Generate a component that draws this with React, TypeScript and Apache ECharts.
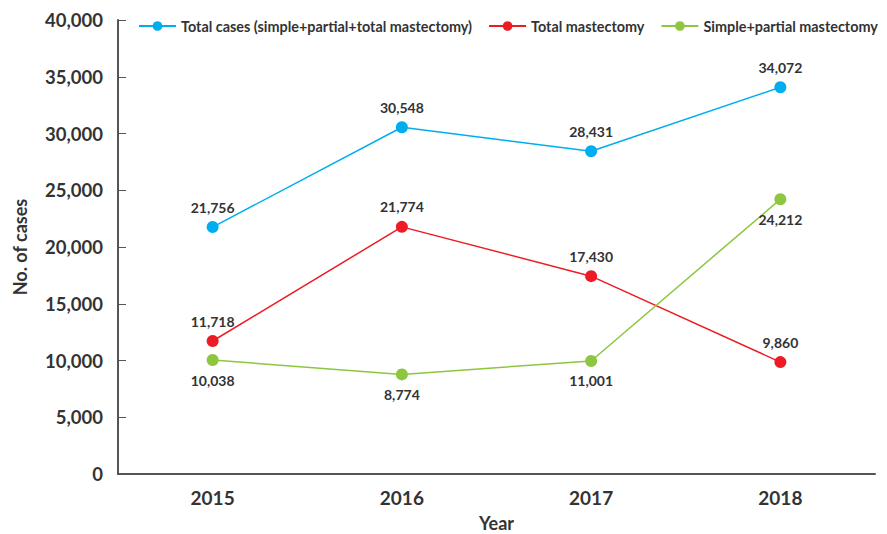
import React, { useEffect, useRef } from "react";
import * as echarts from "echarts";

const years = ["2015", "2016", "2017", "2018"];
const totalCases = [21756, 30548, 28431, 34072];
const totalMastectomy = [11718, 21774, 17430, 9860];
// plotted positions as drawn in the reference (2017 point sits near 10,000)
const simplePartial = [10038, 8774, 9960, 24212];
const simplePartialLabels = ["10,038", "8,774", "11,001", "24,212"];
const yTicks = [0, 5000, 10000, 15000, 20000, 25000, 30000, 35000, 40000];

const FONT = "Lato";
const fmt = (v: number) => v.toLocaleString("en-US");

export default function App() {
  const ref = useRef<HTMLDivElement>(null);
  useEffect(() => {
    if (!ref.current) return;
    const chart = echarts.init(ref.current, undefined, { renderer: "svg" });
    const labelStyle = {
      show: true,
      fontFamily: FONT,
      fontSize: 14,
      fontWeight: "bold" as const,
      color: "#333",
      distance: 7,
    };
    chart.setOption({
      animation: false,
      textStyle: { fontFamily: FONT },
      legend: {
        top: 19,
        left: 138,
        width: 749,
        padding: 0,
        itemWidth: 37,
        itemHeight: 12,
        itemGap: 16,
        textStyle: { fontFamily: FONT, fontSize: 14.4, color: "#333", fontWeight: "bold" },
        data: [
          "Total cases (simple+partial+total mastectomy)",
          "Total mastectomy",
          "Simple+partial mastectomy",
        ],
      },
      grid: { left: 118, right: 12, top: 20, bottom: 60, containLabel: false, outerBoundsMode: "none" },
      xAxis: {
        type: "category",
        data: years,
        boundaryGap: true,
        name: "Year",
        nameLocation: "middle",
        nameGap: 40,
        nameTextStyle: { fontFamily: FONT, fontSize: 18, fontWeight: "bold", color: "#333" },
        axisLine: { lineStyle: { color: "#555", width: 2 } },
        axisTick: { inside: true, alignWithLabel: true, length: 8, lineStyle: { color: "#555", width: 1 } },
        axisLabel: { fontFamily: FONT, fontSize: 19, fontWeight: "bold", color: "#333", margin: 14 },
        splitLine: { show: false },
      },
      yAxis: {
        type: "value",
        min: yTicks[0],
        max: yTicks[yTicks.length - 1],
        interval: 5000,
        name: "No. of cases",
        nameLocation: "middle",
        nameGap: 89,
        nameTextStyle: { fontFamily: FONT, fontSize: 18, fontWeight: "bold", color: "#333" },
        axisLine: { show: true, lineStyle: { color: "#555", width: 2 } },
        axisTick: { show: true, inside: true, length: 8, lineStyle: { color: "#555", width: 1 } },
        axisLabel: { fontFamily: FONT, fontSize: 18.5, fontWeight: "bold", color: "#333", margin: 15, formatter: (v: number) => fmt(v) },
        splitLine: { show: false },
      },
      series: [
        {
          name: "Total cases (simple+partial+total mastectomy)",
          type: "line",
          data: totalCases,
          symbol: "circle",
          symbolSize: 12,
          color: "#00aeef",
          lineStyle: { width: 1.5 },
          label: { ...labelStyle, position: "top", formatter: (p: any) => fmt(p.value) },
        },
        {
          name: "Total mastectomy",
          type: "line",
          data: totalMastectomy,
          symbol: "circle",
          symbolSize: 12,
          color: "#ed1c24",
          lineStyle: { width: 1.5 },
          label: { ...labelStyle, position: "top", formatter: (p: any) => fmt(p.value) },
        },
        {
          name: "Simple+partial mastectomy",
          type: "line",
          data: simplePartial,
          symbol: "circle",
          symbolSize: 12,
          color: "#8dc63f",
          lineStyle: { width: 1.5 },
          label: { ...labelStyle, position: "bottom", formatter: (p: any) => simplePartialLabels[p.dataIndex] },
        },
      ],
    });
    return () => chart.dispose();
  }, []);
  return <div ref={ref} style={{ width: 887, height: 534, position: "absolute", left: 0, top: 0 }} />;
}
